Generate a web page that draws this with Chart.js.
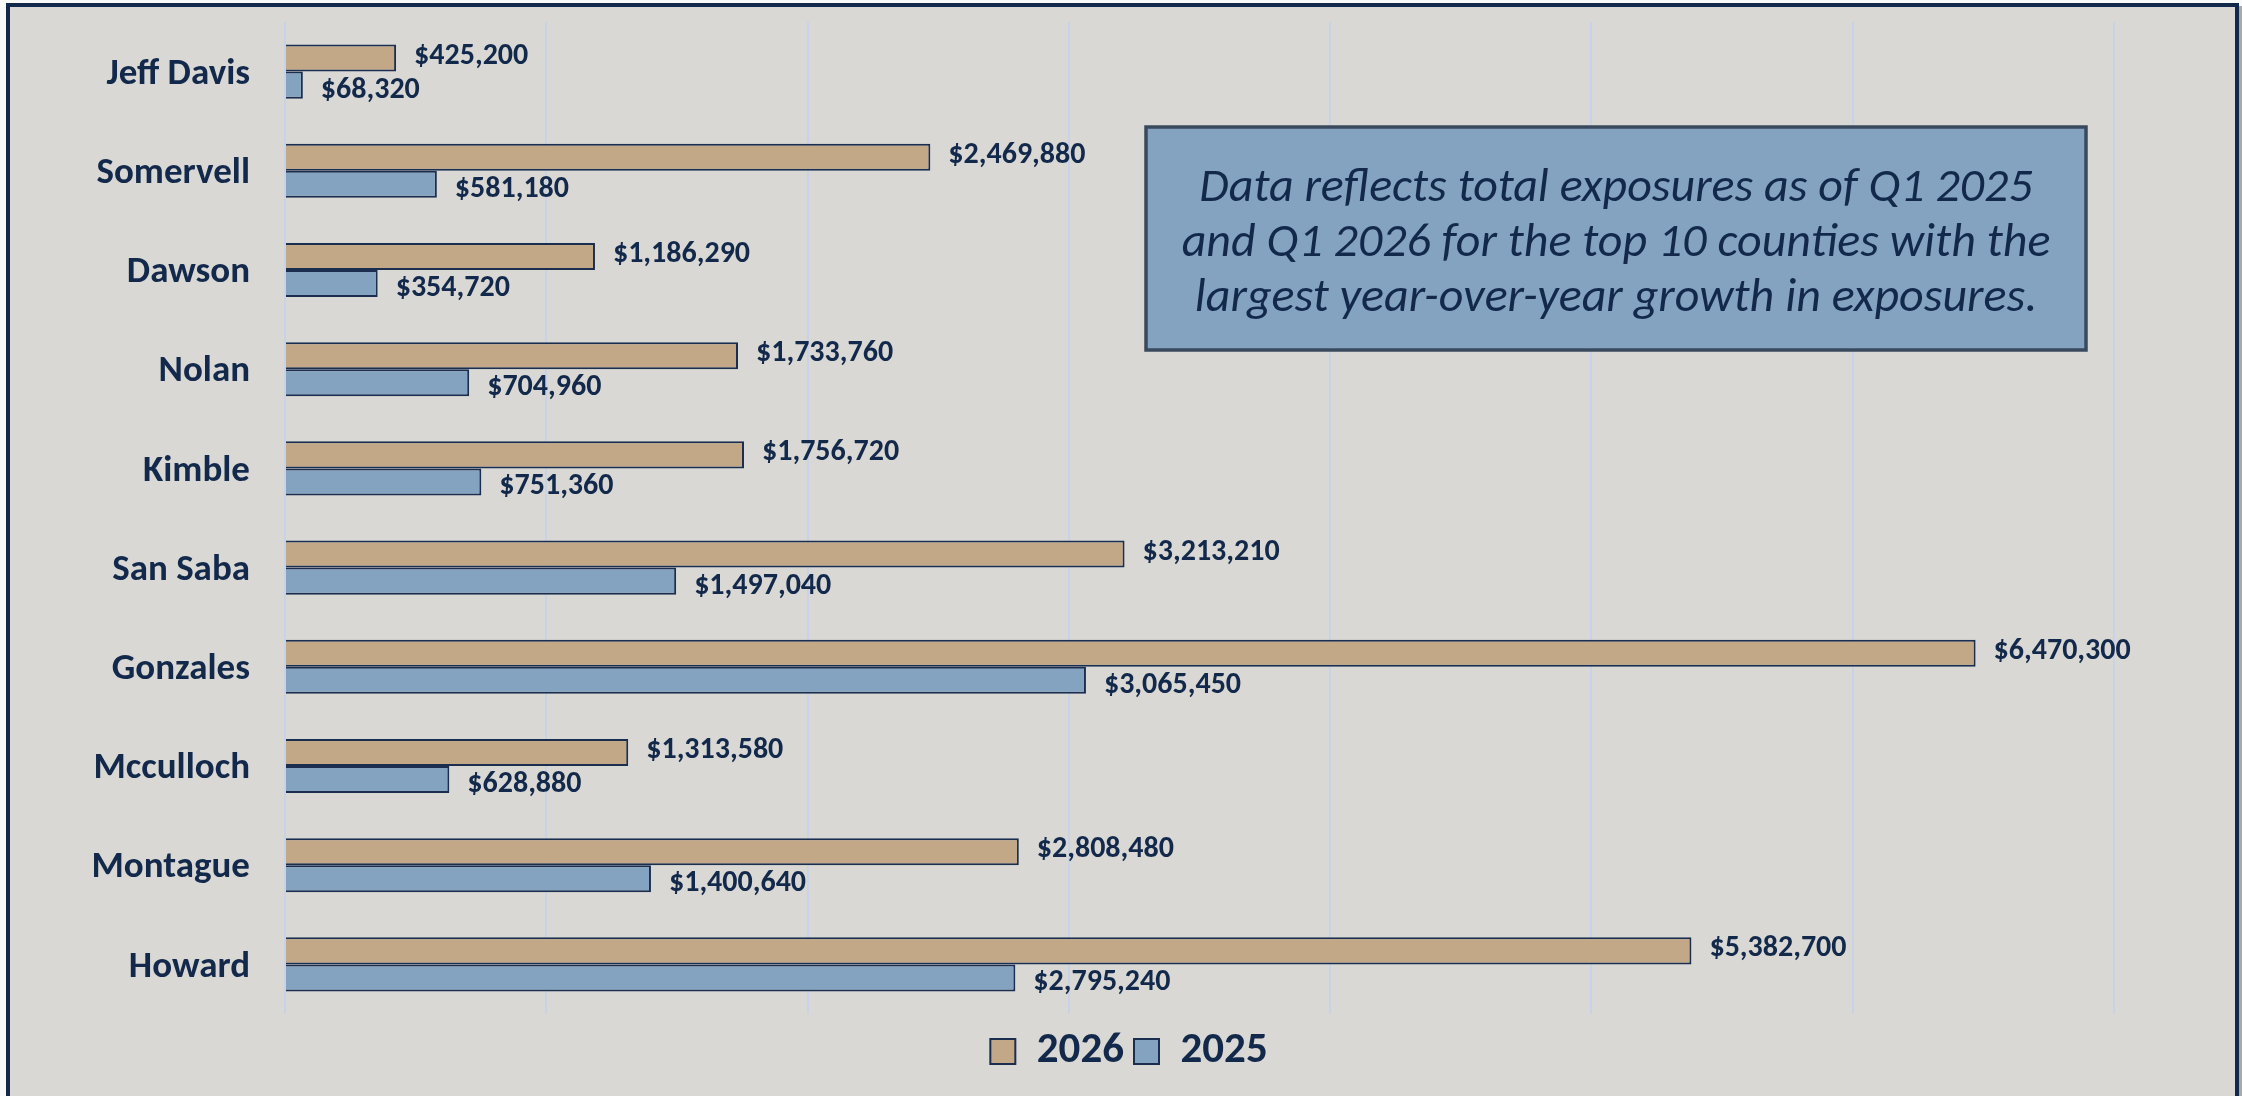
<!DOCTYPE html>
<html>
<head>
<meta charset="utf-8">
<script src="https://cdn.jsdelivr.net/npm/chart.js@4/dist/chart.umd.min.js"></script>
<style>
  html, body { margin: 0; padding: 0; background: #F9F9F7; }
  #wrap { width: 2242px; height: 1096px; position: relative; }
</style>
</head>
<body>
<div id="wrap"><canvas id="c" width="2242" height="1096"></canvas></div>
<script>
const categories = ['Jeff Davis', 'Somervell', 'Dawson', 'Nolan', 'Kimble', 'San Saba', 'Gonzales', 'Mcculloch', 'Montague', 'Howard'];
const values2026 = [425200, 2469880, 1186290, 1733760, 1756720, 3213210, 6470300, 1313580, 2808480, 5382700];
const values2025 = [68320, 581180, 354720, 704960, 751360, 1497040, 3065450, 628880, 1400640, 2795240];
const seriesLabels = ['2026', '2025'];
const noteLines = [
  'Data reflects total exposures as of Q1 2025',
  'and Q1 2026 for the top 10 counties with the',
  'largest year-over-year growth in exposures.'
];

const NAVY = '#13294B';
const FONT = "Carlito, Lato, 'Open Sans', sans-serif";

const framePlugin = {
  id: 'frame',
  beforeDraw(chart) {
    const ctx = chart.ctx;
    ctx.save();
    ctx.fillStyle = '#F9F9F7';
    ctx.fillRect(0, 0, chart.width, chart.height);
    ctx.fillStyle = '#A9A9A9';
    ctx.fillRect(2239, 6, 3, chart.height);
    ctx.fillStyle = '#D9D8D4';
    ctx.fillRect(8, 4, 2229, chart.height);
    ctx.strokeStyle = NAVY;
    ctx.lineWidth = 4;
    ctx.strokeRect(8, 5, 2229, chart.height + 20);
    ctx.restore();
  }
};

const labelPlugin = {
  id: 'valueLabels',
  afterDatasetsDraw(chart) {
    const ctx = chart.ctx;
    ctx.save();
    ctx.fillStyle = NAVY;
    ctx.font = "bold 30px " + FONT;
    ctx.textAlign = 'left';
    ctx.textBaseline = 'middle';
    chart.data.datasets.forEach((ds, di) => {
      const meta = chart.getDatasetMeta(di);
      meta.data.forEach((el, i) => {
        const v = ds.data[i];
        const txt = '$' + v.toLocaleString('en-US');
        ctx.fillText(txt, el.x + 18, el.y + (di === 0 ? -2 : 5));
      });
    });
    ctx.restore();
  }
};

const notePlugin = {
  id: 'note',
  afterDraw(chart) {
    const ctx = chart.ctx;
    ctx.save();
    const x = 1146, y = 127, w = 940, h = 223;
    ctx.fillStyle = '#84A3C1';
    ctx.fillRect(x, y, w, h);
    ctx.strokeStyle = '#3A4A5E';
    ctx.lineWidth = 3.5;
    ctx.strokeRect(x, y, w, h);
    ctx.fillStyle = NAVY;
    ctx.font = "italic 48px " + FONT;
    ctx.textAlign = 'center';
    ctx.textBaseline = 'middle';
    const cx = x + w / 2;
    const ys = [189, 244, 299];
    noteLines.forEach((t, i) => ctx.fillText(t, cx, ys[i]));
    ctx.restore();
  }
};

new Chart(document.getElementById('c'), {
  type: 'bar',
  data: {
    labels: categories,
    datasets: [
      {
        label: seriesLabels[0],
        data: values2026,
        backgroundColor: '#C2A886',
        borderColor: '#1B2E50',
        borderWidth: 2
      },
      {
        label: seriesLabels[1],
        data: values2025,
        backgroundColor: '#84A3C1',
        borderColor: '#1B2E50',
        borderWidth: 2
      }
    ]
  },
  options: {
    indexAxis: 'y',
    responsive: false,
    animation: false,
    devicePixelRatio: 1,
    categoryPercentage: 0.545,
    barPercentage: 1.0,
    layout: { padding: { left: 16, right: 0, top: 22, bottom: 13 } },
    scales: {
      x: {
        min: 0,
        max: 7000000,
        ticks: { display: false, stepSize: 1000000 },
        grid: { color: '#C9D3E8', lineWidth: 2, drawTicks: false },
        border: { display: false },
        afterFit(scale) { scale.height = 6; scale.paddingLeft = 0; scale.paddingRight = 0; }
      },
      y: {
        grid: { display: false, drawTicks: false },
        border: { display: false },
        ticks: {
          color: NAVY,
          padding: 35,
          labelOffset: 3,
          font: { family: FONT, size: 37, weight: 'bold' }
        },
        afterFit(scale) { scale.width = 269; scale.paddingTop = 0; scale.paddingBottom = 0; }
      },
      yRight: {
        type: 'category',
        position: 'right',
        grid: { display: false, drawTicks: false },
        border: { display: false },
        ticks: { display: false },
        afterFit(scale) { scale.width = 128; scale.paddingTop = 0; scale.paddingBottom = 0; }
      }
    },
    plugins: {
      legend: {
        position: 'bottom',
        labels: {
          color: NAVY,
          boxWidth: 25,
          boxHeight: 25,
          padding: 10,
          font: { family: FONT, size: 43, weight: 'bold' }
        }
      },
      tooltip: { enabled: false }
    }
  },
  plugins: [framePlugin, labelPlugin, notePlugin]
});
</script>
</body>
</html>
